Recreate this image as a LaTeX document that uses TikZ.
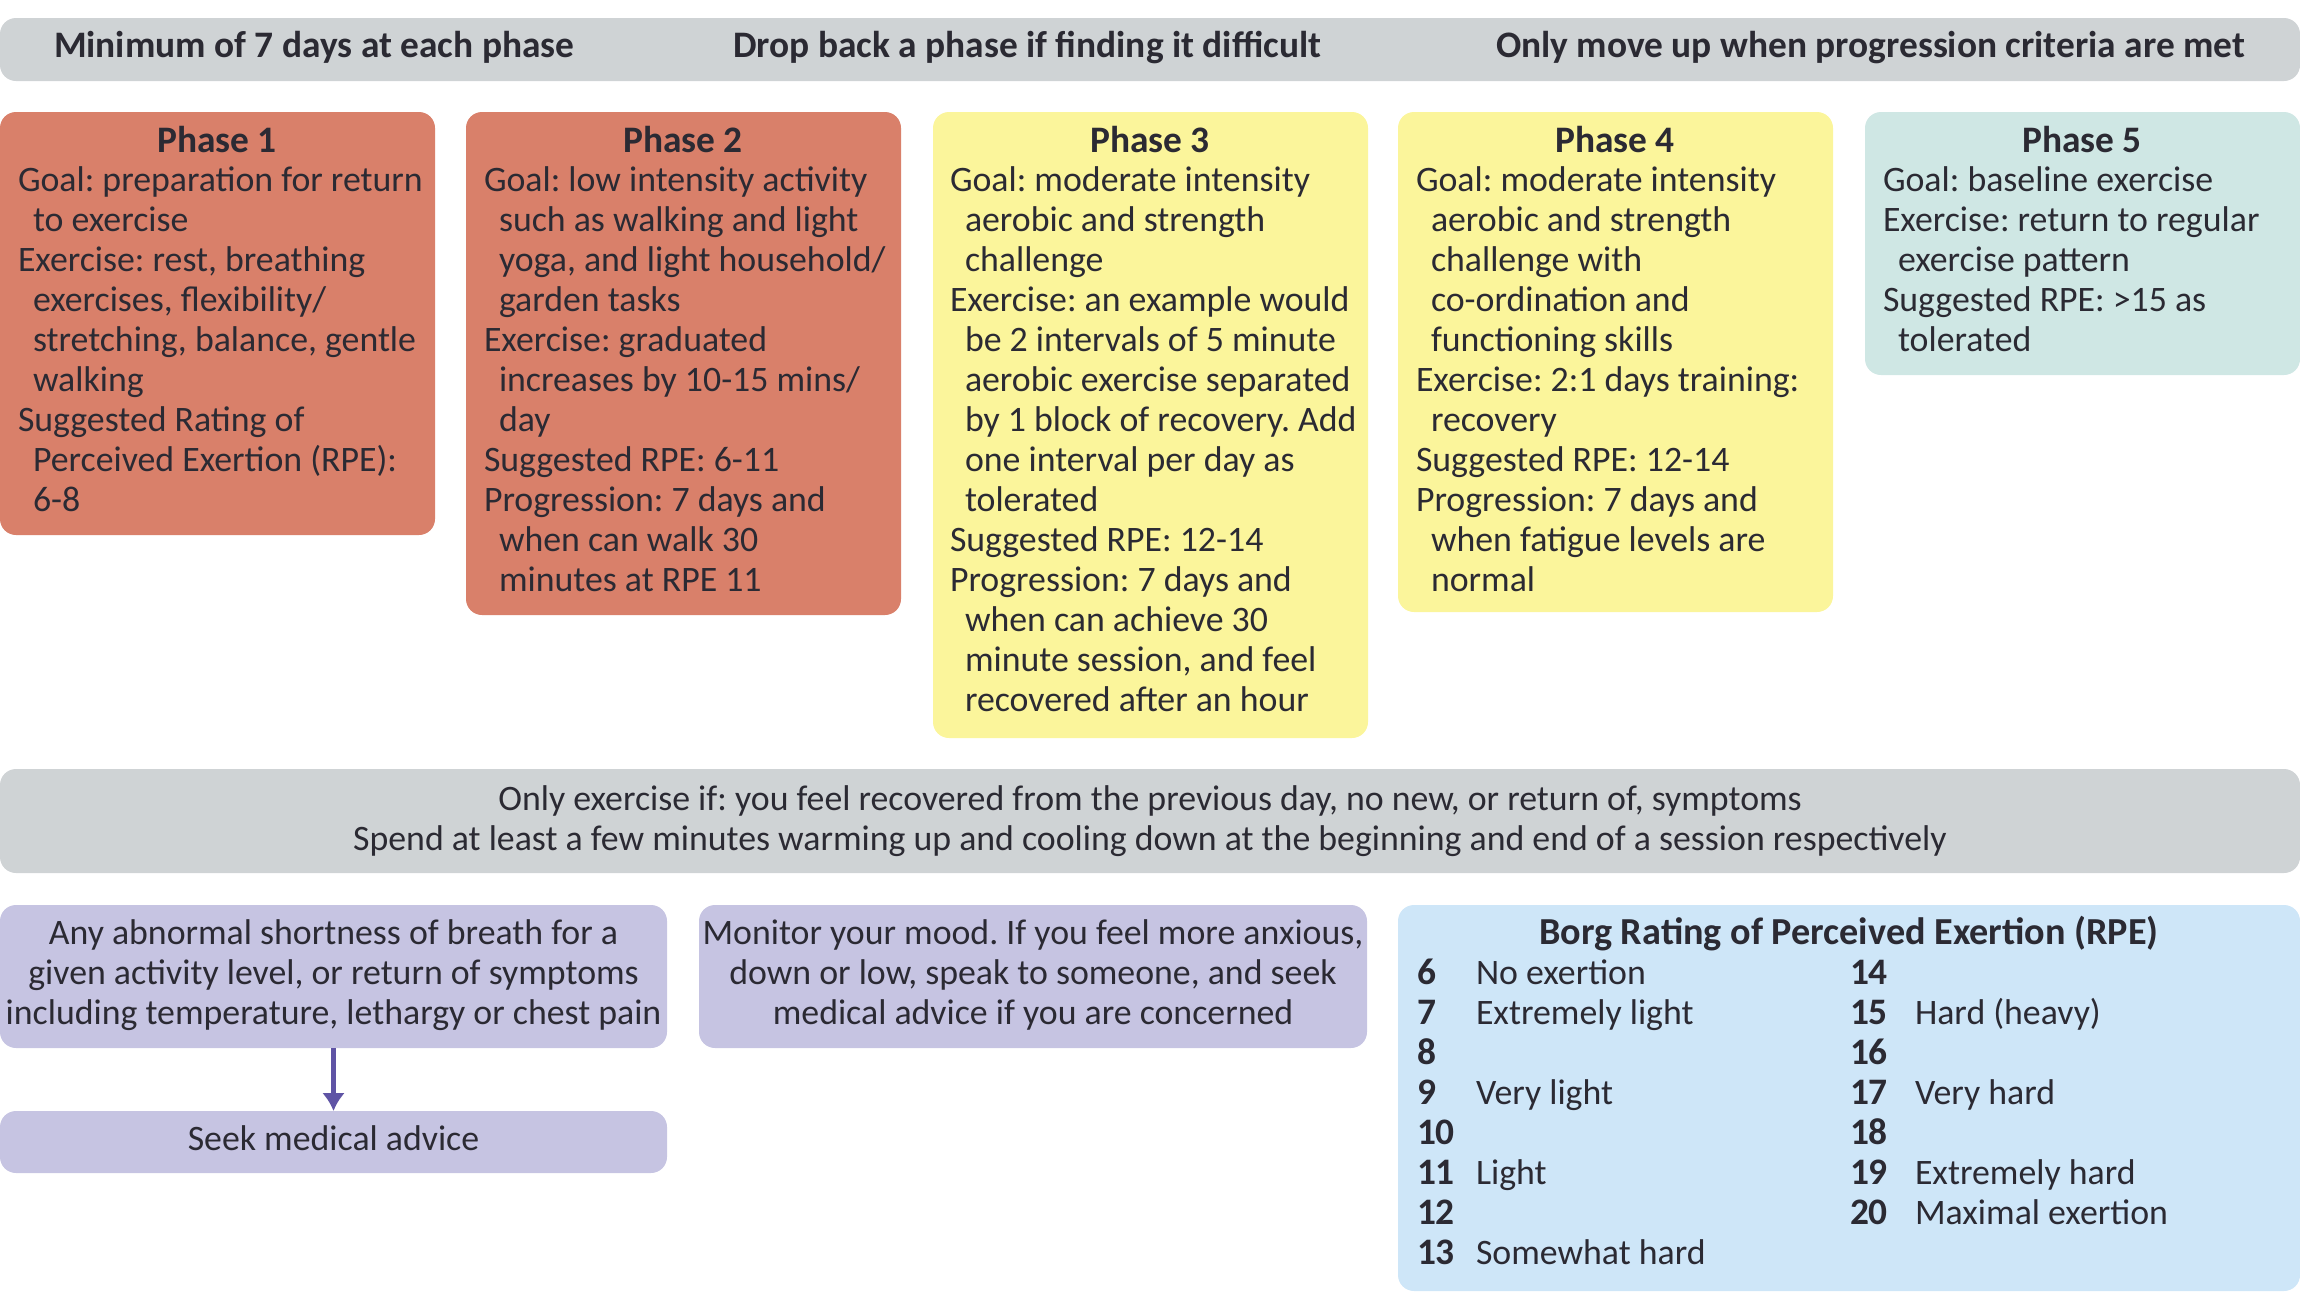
\documentclass[tikz,border=0pt]{standalone}
\usepackage{fontspec}
\setmainfont{Carlito}
\usetikzlibrary{arrows.meta}
\definecolor{inkc}{HTML}{2B2A33}
\definecolor{bandc}{HTML}{CFD3D5}
\definecolor{redc}{HTML}{D9806A}
\definecolor{yelc}{HTML}{FBF59B}
\definecolor{teac}{HTML}{CFE7E4}
\definecolor{purc}{HTML}{C6C4E2}
\definecolor{bluc}{HTML}{CEE6F8}
\definecolor{arrc}{HTML}{5F54A5}
\newcommand{\ind}{\hspace*{15pt}}
\frenchspacing
\tikzset{
  boxnode/.style={anchor=north west,inner sep=0pt,outer sep=0pt,rounded corners=16pt},
  basetxt/.style={inner sep=0pt,outer sep=0pt,text=inkc,font=\fontsize{35.8}{40}\selectfont\frenchspacing},
  bodytxt/.style={basetxt,anchor=north west,align=left},
  midtxt/.style={basetxt,anchor=north,align=center},
  headtxt/.style={basetxt,anchor=base,font=\fontsize{37.4}{40}\selectfont\bfseries},
  numtxt/.style={basetxt,anchor=base west,font=\fontsize{37.4}{40}\selectfont\bfseries},
  lbltxt/.style={basetxt,anchor=base west},
}
\begin{document}
\begin{tikzpicture}[x=1pt,y=-1pt]
\useasboundingbox (0,0) rectangle (2300,1291);
% top band
\node[boxnode,fill=bandc,minimum width=2300pt,minimum height=63pt] (band) at (0,18) {};
\node[numtxt] (t1) at (54,57) {Minimum of 7 days at each phase};
\node[numtxt] (t2) at (733,57) {Drop back a phase if finding it difficult};
\node[numtxt] (t3) at (1496,57) {Only move up when progression criteria are met};
% phases
\node[boxnode,fill=redc,minimum width=435pt,minimum height=423pt] (p1) at (0,112) {};
\node[boxnode,fill=redc,minimum width=435pt,minimum height=503pt] (p2) at (466,112) {};
\node[boxnode,fill=yelc,minimum width=435pt,minimum height=626pt] (p3) at (933,112) {};
\node[boxnode,fill=yelc,minimum width=435pt,minimum height=500pt] (p4) at (1398,112) {};
\node[boxnode,fill=teac,minimum width=435pt,minimum height=263pt] (p5) at (1865,112) {};
\node[headtxt] (h1) at (217,152) {Phase 1};
\node[headtxt] (h2) at (683,152) {Phase 2};
\node[headtxt] (h3) at (1150,152) {Phase 3};
\node[headtxt] (h4) at (1615,152) {Phase 4};
\node[headtxt] (h5) at (2082,152) {Phase 5};
\node[bodytxt] (b1) at (18,163.5) {\strut Goal: preparation for return\\\ind to exercise\\Exercise: rest, breathing\\\ind exercises, flexibility/\\\ind stretching, balance, gentle\\\ind walking\\Suggested Rating of\\\ind Perceived Exertion (RPE):\\\ind 6-8};
\node[bodytxt] (b2) at (484,163.5) {\strut Goal: low intensity activity\\\ind such as walking and light\\\ind yoga, and light household/\\\ind garden tasks\\Exercise: graduated\\\ind increases by 10-15 mins/\\\ind day\\Suggested RPE: 6-11\\Progression: 7 days and\\\ind when can walk 30\\\ind minutes at RPE 11};
\node[bodytxt] (b3) at (950,163.5) {\strut Goal: moderate intensity\\\ind aerobic and strength\\\ind challenge\\Exercise: an example would\\\ind be 2 intervals of 5 minute\\\ind aerobic exercise separated\\\ind by 1 block of recovery. Add\\\ind one interval per day as\\\ind tolerated\\Suggested RPE: 12-14\\Progression: 7 days and\\\ind when can achieve 30\\\ind minute session, and feel\\\ind recovered after an hour};
\node[bodytxt] (b4) at (1416,163.5) {\strut Goal: moderate intensity\\\ind aerobic and strength\\\ind challenge with\\\ind co-ordination and\\\ind functioning skills\\Exercise: 2:1 days training:\\\ind recovery\\Suggested RPE: 12-14\\Progression: 7 days and\\\ind when fatigue levels are\\\ind normal};
\node[bodytxt] (b5) at (1883,163.5) {\strut Goal: baseline exercise\\Exercise: return to regular\\\ind exercise pattern\\Suggested RPE: >15 as\\\ind tolerated};
% middle band
\node[boxnode,fill=bandc,minimum width=2300pt,minimum height=104pt] (mid) at (0,769) {};
\node[midtxt] (midt) at (1150,782) {\strut Only exercise if: you feel recovered from the previous day, no new, or return of, symptoms\\Spend at least a few minutes warming up and cooling down at the beginning and end of a session respectively};
% purple boxes
\node[boxnode,fill=purc,minimum width=667pt,minimum height=143pt] (breath) at (0,905) {};
\node[boxnode,fill=purc,minimum width=667pt,minimum height=62pt] (seek) at (0,1111) {};
\node[boxnode,fill=purc,minimum width=668pt,minimum height=143pt] (mood) at (699,905) {};
\node[midtxt] (breatht) at (333.5,916.5) {\strut Any abnormal shortness of breath for a\\given activity level, or return of symptoms\\including temperature, lethargy or chest pain};
\node[midtxt] (moodt) at (1033,916.5) {\strut Monitor your mood. If you feel more anxious,\\down or low, speak to someone, and seek\\medical advice if you are concerned};
\node[basetxt,anchor=base] (seekt) at (333.5,1150.5) {Seek medical advice};
\draw[arrc,line width=4.5pt,-{Latex[length=18pt,width=23pt]}] (breath.south) -- (seek.north);
% Borg
\node[boxnode,fill=bluc,minimum width=902pt,minimum height=386pt] (borg) at (1398,905) {};
\node[headtxt,font=\fontsize{38.2}{40}\selectfont\bfseries] (borgh) at (1849,944) {Borg Rating of Perceived Exertion (RPE)};
\foreach \n/\k/\t in {6/0/No exertion,7/1/Extremely light,8/2/,9/3/Very light,10/4/,11/5/Light,12/6/,13/7/Somewhat hard}{
  \node[numtxt] (n\n) at (1417,984+40*\k) {\n};
  \node[lbltxt] (l\n) at (1476,984+40*\k) {\t};
}
\foreach \n/\k/\t in {14/0/,15/1/Hard (heavy),16/2/,17/3/Very hard,18/4/,19/5/Extremely hard,20/6/Maximal exertion}{
  \node[numtxt] (n\n) at (1850,984+40*\k) {\n};
  \node[lbltxt] (l\n) at (1915,984+40*\k) {\t};
}
\end{tikzpicture}
\end{document}
